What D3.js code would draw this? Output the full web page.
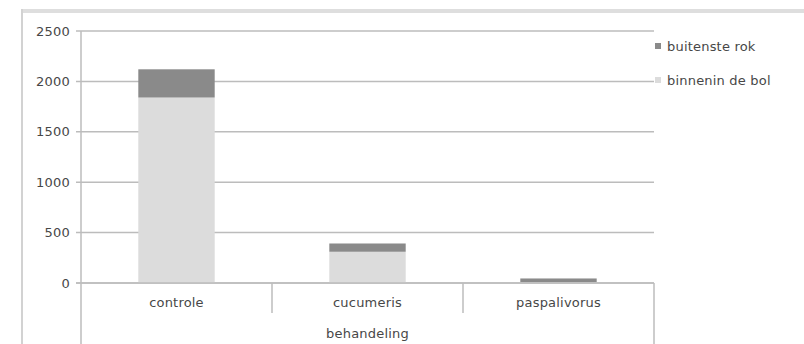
<!DOCTYPE html>
<html>
<head>
<meta charset="utf-8">
<script src="https://cdn.jsdelivr.net/npm/d3@7/dist/d3.min.js"></script>
<style>
  html, body { margin: 0; padding: 0; background: #fff; }
  svg { display: block; }
  text { font-family: "DejaVu Sans", Verdana, sans-serif; fill: #474747; letter-spacing: 0.2px; }
</style>
</head>
<body>
<svg id="chart" width="804" height="344"></svg>
<script>
// Aantal per behandeling, gestapeld per locatie
const categories = ["controle", "cucumeris", "paspalivorus"];
const binnenin = [1840, 310, 8];      // binnenin de bol
const buitenste = [280, 82, 37];      // buitenste rok
const yTicks = [0, 500, 1000, 1500, 2000, 2500];
const seriesNames = ["binnenin de bol", "buitenste rok"];
const seriesColors = ["#dcdcdc", "#8a8a8a"];
const axisTitle = "behandeling";

const svg = d3.select("#chart");
const W = 804, H = 344;
const plot = { left: 81, right: 654, top: 31, bottom: 283 };
const fs = 13;

// outer frame (top and left edges)
svg.append("rect").attr("x", 22).attr("y", 9).attr("width", W - 22).attr("height", 4).attr("fill", "#dedede");
svg.append("rect").attr("x", 21).attr("y", 9).attr("width", 2).attr("height", H - 9).attr("fill", "#d2d2d2");

const x = d3.scaleBand().domain(categories).range([plot.left, plot.right]).paddingInner(0).paddingOuter(0);
const y = d3.scaleLinear().domain([0, 2500]).range([plot.bottom, plot.top]);

const grid = "#bcbcbc";

// gridlines and y tick marks
svg.append("g").selectAll("line").data(yTicks).join("line")
  .attr("x1", plot.left - 5).attr("x2", plot.right)
  .attr("y1", d => y(d)).attr("y2", d => y(d))
  .attr("stroke", grid).attr("stroke-width", 1.5);

// y tick labels
svg.append("g").selectAll("text").data(yTicks).join("text")
  .attr("x", 70).attr("y", d => y(d)).attr("dy", "0.36em")
  .attr("text-anchor", "end").attr("font-size", fs)
  .text(d => d);

// stacked bars
const rows = categories.map((c, i) => ({ cat: c, "binnenin de bol": binnenin[i], "buitenste rok": buitenste[i] }));
const stacked = d3.stack().keys(seriesNames)(rows);
const barW = x.bandwidth() * 0.4;

svg.append("g").selectAll("g").data(stacked).join("g")
  .attr("fill", (d, i) => seriesColors[i])
  .selectAll("rect").data(d => d).join("rect")
  .attr("x", d => x(d.data.cat) + (x.bandwidth() - barW) / 2)
  .attr("width", barW)
  .attr("y", d => y(d[1]))
  .attr("height", d => y(d[0]) - y(d[1]));

// baseline redrawn over bars
svg.append("line").attr("x1", plot.left - 5).attr("x2", plot.right)
  .attr("y1", y(0)).attr("y2", y(0)).attr("stroke", grid).attr("stroke-width", 1.5);

// y axis line runs to the bottom edge
svg.append("line").attr("x1", plot.left).attr("x2", plot.left)
  .attr("y1", plot.top).attr("y2", H).attr("stroke", grid).attr("stroke-width", 1.5);

// category dividers
categories.slice(1).forEach(c => {
  svg.append("line").attr("x1", x(c)).attr("x2", x(c))
    .attr("y1", y(0)).attr("y2", 313).attr("stroke", grid).attr("stroke-width", 1.5);
});
svg.append("line").attr("x1", plot.right).attr("x2", plot.right)
  .attr("y1", y(0)).attr("y2", H).attr("stroke", grid).attr("stroke-width", 1.5);

// category labels
svg.append("g").selectAll("text").data(categories).join("text")
  .attr("x", d => x(d) + x.bandwidth() / 2).attr("y", 307)
  .attr("text-anchor", "middle").attr("font-size", fs)
  .text(d => d);

// axis title
svg.append("text").attr("x", (plot.left + plot.right) / 2).attr("y", 338)
  .attr("text-anchor", "middle").attr("font-size", fs).text(axisTitle);

// legend (top entry is the top of the stack)
const legendItems = [
  { name: "buitenste rok", color: seriesColors[1], y: 46 },
  { name: "binnenin de bol", color: seriesColors[0], y: 80 }
];
const lg = svg.append("g").selectAll("g").data(legendItems).join("g")
  .attr("transform", d => `translate(655,${d.y})`);
lg.append("rect").attr("x", 0).attr("y", -3).attr("width", 6).attr("height", 6).attr("fill", d => d.color);
lg.append("text").attr("x", 12).attr("y", 0).attr("dy", "0.36em").attr("font-size", fs).text(d => d.name);
</script>
</body>
</html>
